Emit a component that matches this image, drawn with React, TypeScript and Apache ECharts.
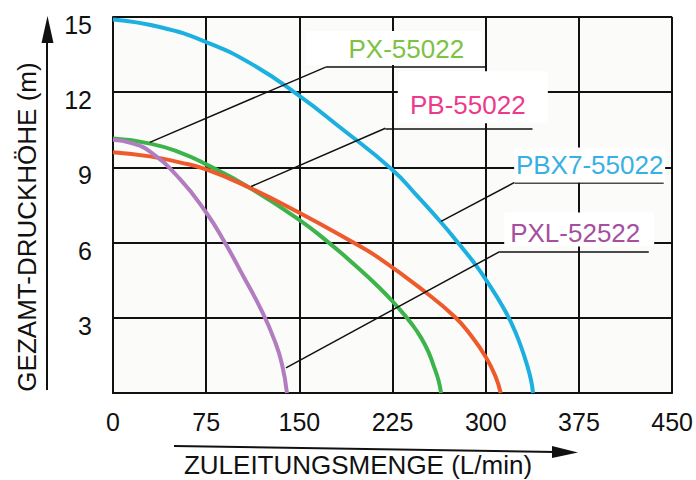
import React, { useEffect, useRef } from 'react';
import * as echarts from 'echarts';

const FONT = '"Liberation Sans", Arial, Helvetica, sans-serif';
const INK = '#111111';

// axis ticks
const xMax = 450;
const xStep = 75;
const yMax = 15;
const yStep = 3;

// curve data: flow (L/min) and head (m)
const pxFlow = [0, 30, 53.6, 75, 109.6, 149.6, 173.6, 189.6, 213.6, 229.6, 240, 248, 254, 258.5, 262, 264];
const pxHead = [10.15, 9.95, 9.6, 9.12, 8.2, 6.92, 6.0, 5.33, 4.24, 3.4, 2.78, 2.2, 1.62, 1.02, 0.5, 0];

const pbFlow = [0, 29.6, 53.6, 75, 109.6, 149.6, 192, 213.6, 251, 275, 288, 300, 308, 312];
const pbHead = [9.6, 9.44, 9.2, 8.92, 8.2, 7.2, 6.04, 5.4, 4.04, 3.04, 2.3, 1.44, 0.64, 0];

const pbx7Flow = [0, 37.5, 75, 112.5, 150, 181.6, 225, 245, 265, 280, 292, 303, 313, 321, 328, 333, 336.5, 338];
const pbx7Head = [14.9, 14.6, 14.0, 13.1, 11.85, 10.64, 8.9, 7.85, 6.75, 5.85, 5.1, 4.3, 3.5, 2.75, 1.9, 1.15, 0.5, 0];

const pxlFlow = [0, 15, 30, 53.6, 75, 90, 105, 120, 130, 136, 140];
const pxlHead = [10.1, 9.97, 9.62, 8.55, 7.2, 6.0, 4.65, 3.25, 2.1, 1.15, 0];

const names = ['PX-55022', 'PB-55022', 'PBX7-55022', 'PXL-52522'];

// annotation layout (leader polylines in data space, label boxes)
const leaders = [
  [[29.6, 10.0], [171.2, 13.0], [300, 13.0]],
  [[111.2, 8.24], [219.2, 10.56], [337.6, 10.56]],
  [[264, 6.85], [323.2, 8.4], [443.2, 8.4]],
  [[139.2, 1.0], [311.2, 5.64], [431.2, 5.64]],
];
const boxes = [
  { at: [226.4, 13.76], size: [176, 34], offset: [12, 1] },
  { at: [289.6, 11.8], size: [150, 52], offset: [-5, 8] },
  { at: [383.6, 9.1], size: [151, 35], offset: [0, 0] },
  { at: [375.2, 6.52], size: [150, 34], offset: [-4, 3] },
];

const lineColors = ['#3cb44b', '#ee5a2b', '#1cb0e0', '#b27cc0'];
const labelColors = ['#7cc243', '#ec3a8c', '#38b0e3', '#a64fa0'];

const zip = (xs: number[], ys: number[]) => xs.map((x, i) => [x, ys[i]]);
const curves = [zip(pxFlow, pxHead), zip(pbFlow, pbHead), zip(pbx7Flow, pbx7Head), zip(pxlFlow, pxlHead)];

export default function App() {
  const ref = useRef<HTMLDivElement>(null);
  useEffect(() => {
    if (!ref.current) return;
    const chart = echarts.init(ref.current, undefined, { renderer: 'svg' });
    const series: any[] = names.map((name, i) => {
      const l = leaders[i];
      const b = boxes[i];
      return {
        name,
        type: 'line',
        data: curves[i],
        smooth: 0.5,
        showSymbol: false,
        symbol: 'none',
        z: 3,
        lineStyle: { color: lineColors[i], width: 4 },
        markLine: {
          silent: true,
          symbol: ['none', 'none'],
          label: { show: false },
          lineStyle: { color: INK, width: 1.5, type: 'solid' },
          emphasis: { disabled: true },
          data: [
            [{ coord: l[0] }, { coord: l[1] }],
            [{ coord: l[1] }, { coord: l[2] }],
          ],
        },
        markPoint: {
          silent: true,
          z: 5,
          data: [
            {
              name,
              coord: b.at,
              symbol: 'rect',
              symbolSize: b.size,
              itemStyle: { color: '#ffffff' },
              label: {
                show: true,
                position: 'inside',
                formatter: name,
                offset: b.offset,
                color: labelColors[i],
                fontSize: 26,
                fontFamily: FONT,
              },
            },
          ],
        },
      };
    });

    chart.setOption({
      animation: false,
      backgroundColor: '#ffffff',
      grid: {
        left: 113,
        top: 17,
        right: 20,
        bottom: 87,
        show: true,
        backgroundColor: '#fbfbf9',
        borderWidth: 0,
      },
      xAxis: {
        type: 'value',
        min: 0,
        max: xMax,
        interval: xStep,
        axisLine: { show: true, onZero: false, lineStyle: { color: INK, width: 2 } },
        axisTick: { show: false },
        splitLine: { show: true, lineStyle: { color: INK, width: 2 } },
        axisLabel: { fontSize: 25, color: INK, margin: 16, fontFamily: FONT },
      },
      yAxis: {
        type: 'value',
        min: 0,
        max: yMax,
        interval: yStep,
        axisLine: { show: true, lineStyle: { color: INK, width: 2 } },
        axisTick: { show: false },
        splitLine: { show: true, lineStyle: { color: INK, width: 2 } },
        axisLabel: {
          fontSize: 25,
          color: INK,
          margin: 21,
          fontFamily: FONT,
          verticalAlign: 'top',
          lineHeight: 16,
          formatter: (v: number) => (v === 0 ? '' : String(v)),
        },
      },
      graphic: [
        {
          type: 'text',
          x: 27,
          y: 227,
          rotation: Math.PI / 2,
          style: {
            text: 'GEZAMT-DRUCKHÖHE (m)',
            fontSize: 26,
            fontFamily: FONT,
            fill: INK,
            align: 'center',
            verticalAlign: 'middle',
            textAlign: 'center',
            textVerticalAlign: 'middle',
          },
        },
        {
          type: 'text',
          x: 358,
          y: 465,
          style: {
            text: 'ZULEITUNGSMENGE (L/min)',
            fontSize: 26,
            fontFamily: FONT,
            fill: INK,
            align: 'center',
            verticalAlign: 'middle',
            textAlign: 'center',
            textVerticalAlign: 'middle',
          },
        },
        {
          type: 'line',
          shape: { x1: 47, y1: 390, x2: 47, y2: 40 },
          style: { stroke: INK, lineWidth: 2 },
        },
        {
          type: 'polygon',
          shape: { points: [[41.5, 43], [53.5, 43], [47.5, 16]] },
          style: { fill: INK },
        },
        {
          type: 'line',
          shape: { x1: 174, y1: 446, x2: 555, y2: 452 },
          style: { stroke: INK, lineWidth: 2 },
        },
        {
          type: 'polygon',
          shape: { points: [[552, 446], [552, 458], [578, 452.5]] },
          style: { fill: INK },
        },
      ],
      series,
    });
    return () => chart.dispose();
  }, []);
  return (
    <div
      ref={ref}
      style={{ position: 'fixed', left: 0, top: 0, width: 696, height: 480, background: '#fff' }}
    />
  );
}
